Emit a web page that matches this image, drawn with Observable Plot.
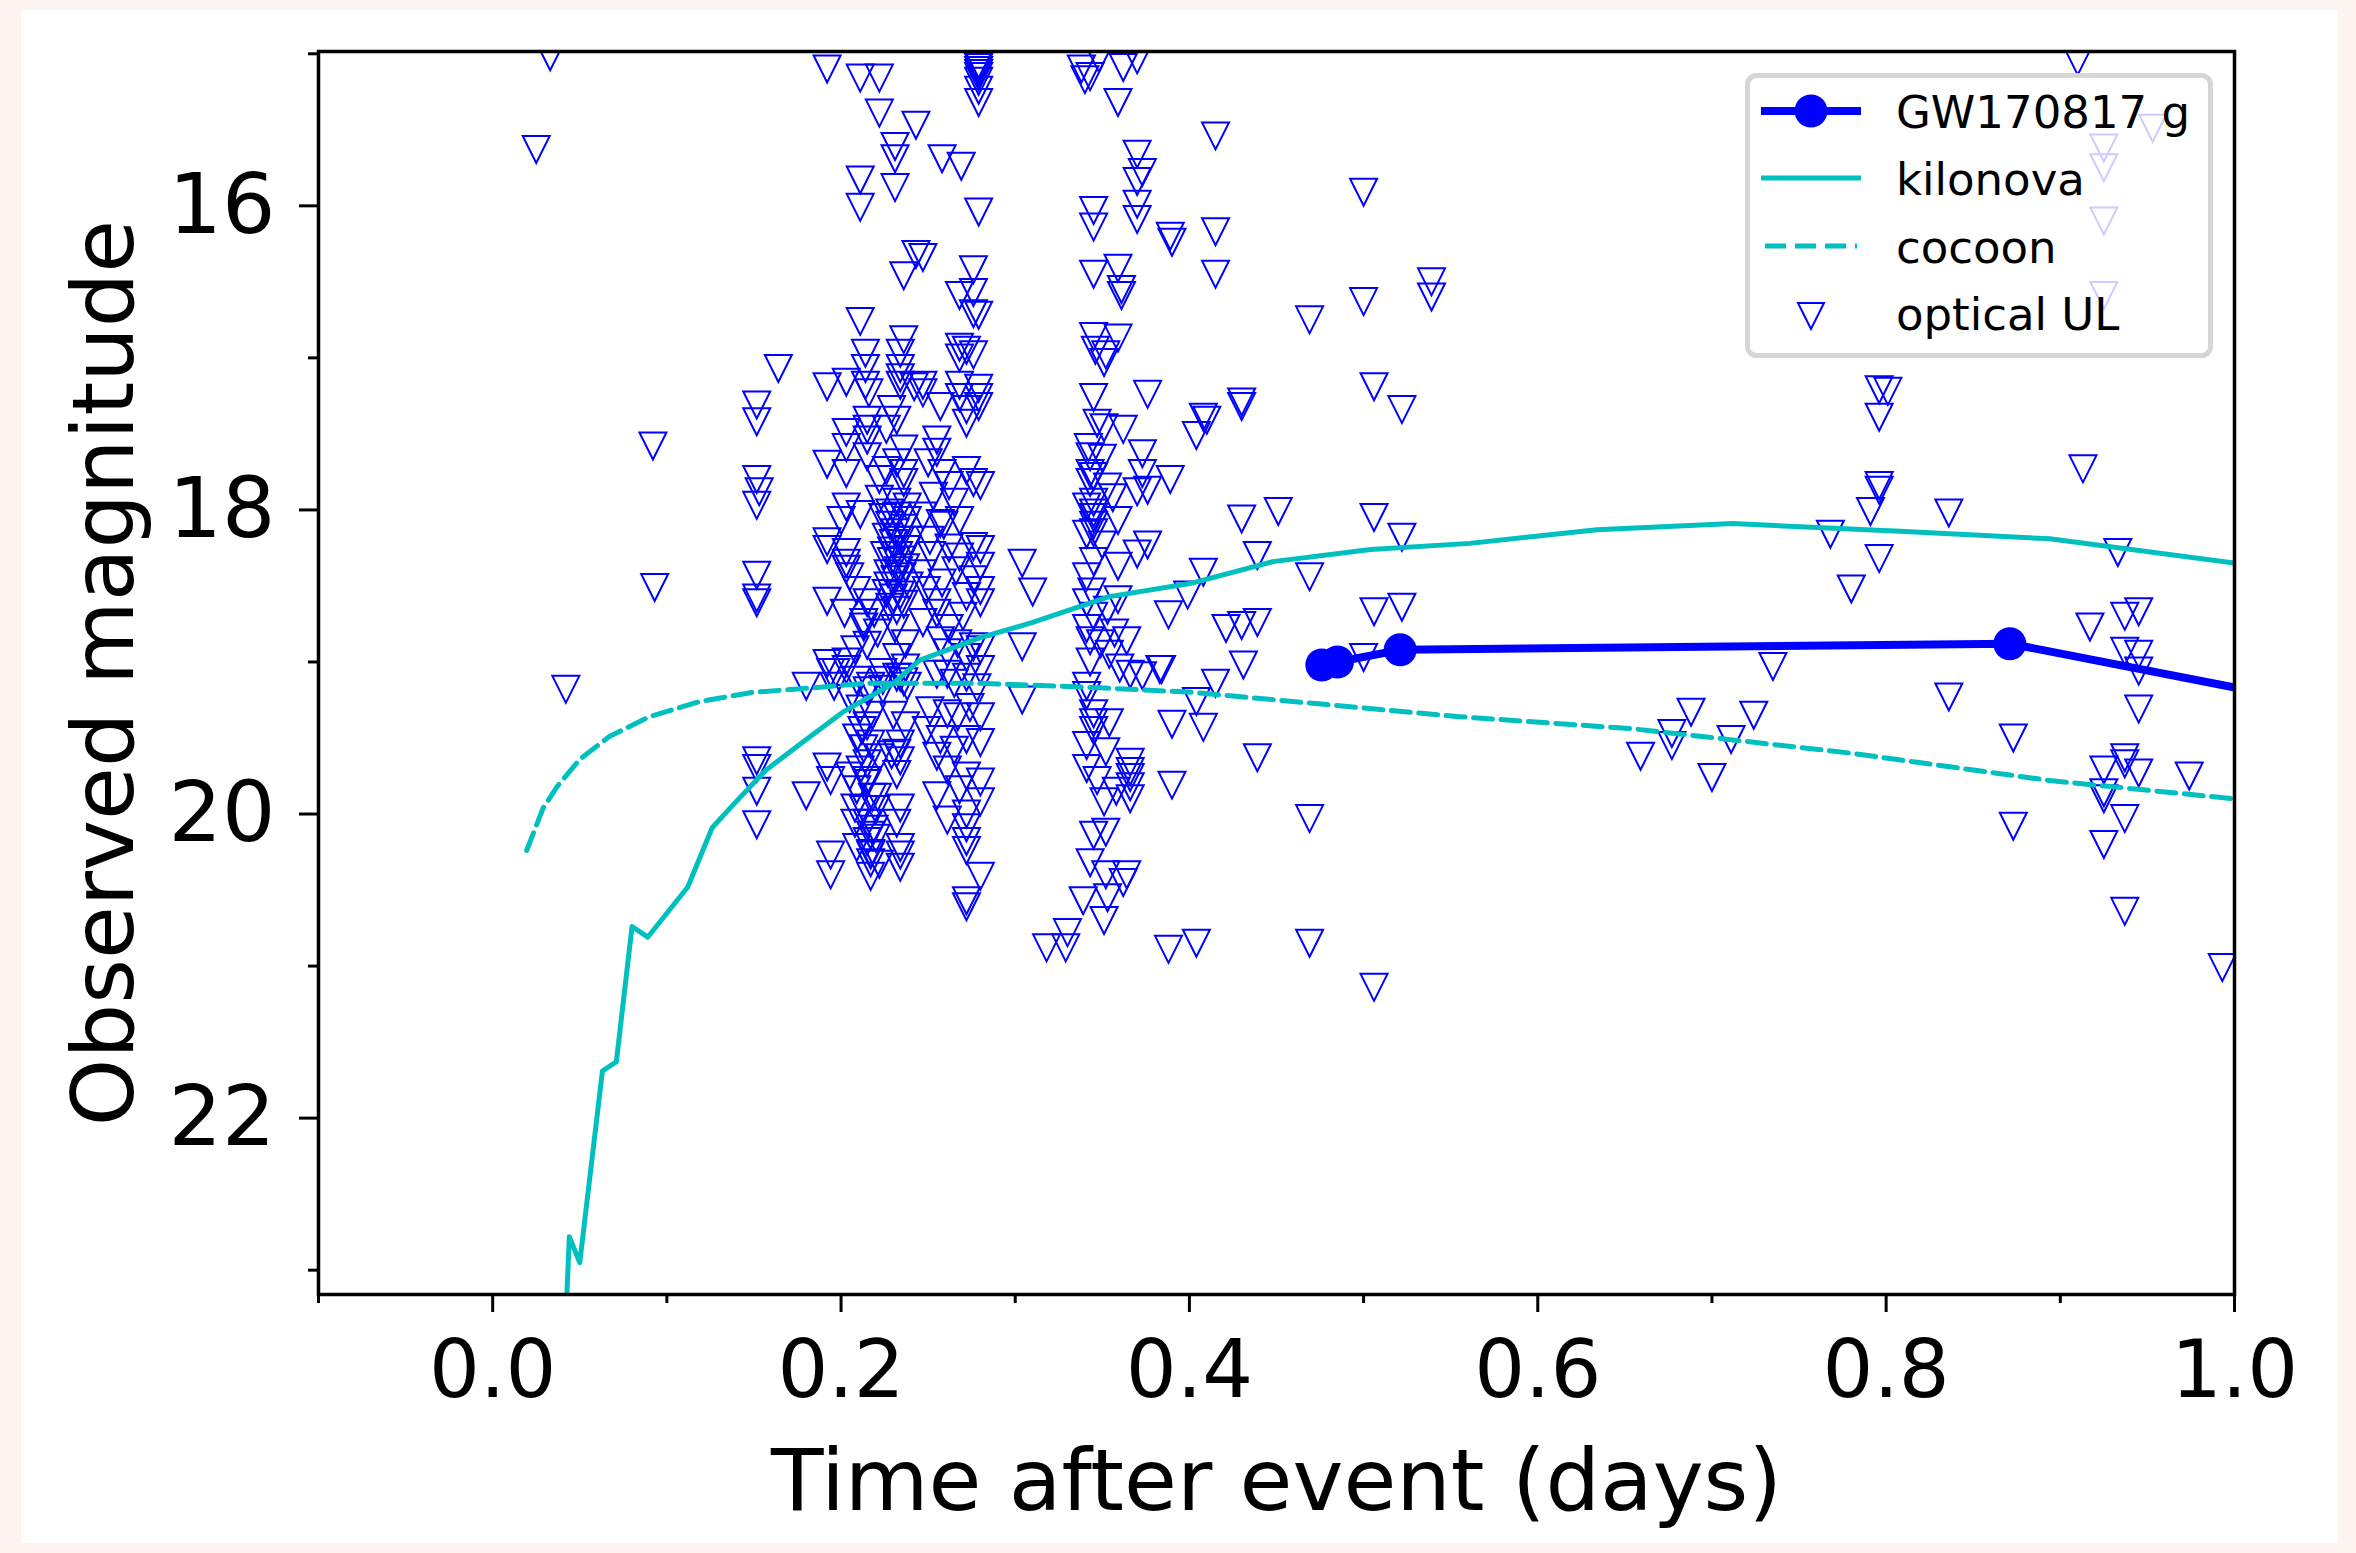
<!DOCTYPE html>
<html>
<head>
<meta charset="utf-8">
<script src="https://cdn.jsdelivr.net/npm/d3@7"></script>
<script src="https://cdn.jsdelivr.net/npm/@observablehq/plot@0.6"></script>
<style>
  html, body { margin: 0; padding: 0; background: #fdf4f1; }
  #page { position: relative; width: 2356px; height: 1553px; overflow: hidden; }
  #sheet { position: absolute; left: 21px; top: 10px; width: 2317px; height: 1533px; background: #ffffff; }
  #chart { position: absolute; left: 0; top: 0; }
  #legend { position: absolute; left: 0; top: 0; }
  text { font-family: "DejaVu Sans", sans-serif; }
</style>
</head>
<body>
<div id="page">
  <div id="sheet"></div>
  <div id="chart"></div>
  <svg id="legend" width="2356" height="1553"></svg>
</div>
<script>
// ---------------- data ----------------
const xMajorTicks = [0.0, 0.2, 0.4, 0.6, 0.8, 1.0];
const xMinorTicks = [-0.1, 0.1, 0.3, 0.5, 0.7, 0.9];
const yMajorTicks = [16, 18, 20, 22];
const yMinorTicks = [15, 17, 19, 21, 23];
const legendLabels = ["GW170817 g", "kilonova", "cocoon", "optical UL"];

// GW170817 g-band detections [days, mag]
const gwPoints = [[0.476, 19.02], [0.485, 19.00], [0.521, 18.92], [0.871, 18.88], [1.10, 19.39]];

// kilonova model [days, mag]
const kilonovaCurve = [
  [0.041, 23.6], [0.044, 22.78], [0.050, 22.95], [0.063, 21.69], [0.071, 21.63],
  [0.080, 20.74], [0.089, 20.81], [0.112, 20.48], [0.126, 20.09], [0.138, 19.94],
  [0.157, 19.71], [0.180, 19.51], [0.201, 19.33], [0.230, 19.14], [0.245, 18.99],
  [0.280, 18.84], [0.310, 18.74], [0.354, 18.57], [0.402, 18.48], [0.448, 18.34],
  [0.504, 18.26], [0.561, 18.22], [0.634, 18.13], [0.712, 18.09], [0.808, 18.14],
  [0.894, 18.19], [1.000, 18.35], [1.050, 18.43]
];

// cocoon model [days, mag]
const cocoonCurve = [
  [0.0195, 20.24], [0.029, 19.96], [0.037, 19.82], [0.050, 19.64], [0.067, 19.49],
  [0.090, 19.36], [0.119, 19.26], [0.149, 19.20], [0.184, 19.17], [0.215, 19.14],
  [0.280, 19.14], [0.349, 19.17], [0.402, 19.20], [0.479, 19.28], [0.555, 19.36],
  [0.655, 19.44], [0.780, 19.60], [0.894, 19.78], [1.000, 19.90]
];

// optical upper limits [days, mag]
const ulEarly = [
  [0.033, 15.02], [0.025, 15.63], [0.092, 17.58], [0.093, 18.51], [0.042, 19.18],
  [0.164, 17.07], [0.180, 19.16], [0.180, 19.88],
  [0.1516, 17.31], [0.1516, 17.42], [0.1516, 17.80], [0.153, 17.88], [0.1516, 17.97],
  [0.1516, 18.43], [0.1516, 18.58], [0.1516, 18.61], [0.1516, 19.65], [0.1516, 19.70],
  [0.1516, 19.85], [0.1516, 20.07]
];

const ulColA = [
  [0.192, 15.10], [0.211, 15.16], [0.222, 15.16], [0.222, 15.39], [0.243, 15.47],
  [0.231, 15.61], [0.231, 15.69], [0.211, 15.83], [0.231, 15.88], [0.211, 16.01],
  [0.243, 16.32], [0.236, 16.46], [0.211, 16.76], [0.236, 16.88],
  [0.192, 17.19], [0.203, 17.16], [0.214, 16.97], [0.214, 17.07], [0.214, 17.18],
  [0.216, 17.23], [0.234, 16.97], [0.234, 17.07], [0.234, 17.13], [0.234, 17.18],
  [0.242, 17.19], [0.229, 17.34], [0.232, 17.41], [0.215, 17.41], [0.215, 17.47],
  [0.215, 17.54], [0.215, 17.65], [0.203, 17.49], [0.203, 17.59], [0.203, 17.76],
  [0.192, 17.70], [0.226, 17.47], [0.226, 17.74], [0.236, 17.60], [0.236, 17.76],
  [0.203, 17.98], [0.222, 17.93], [0.232, 17.95], [0.238, 17.98], [0.232, 17.69],
  [0.236, 17.82], [0.222, 17.80], [0.228, 18.02], [0.238, 18.07],
  [0.192, 18.21], [0.200, 18.07], [0.211, 18.03], [0.203, 18.28], [0.203, 18.39],
  [0.192, 18.60], [0.202, 18.68], [0.213, 18.77], [0.215, 18.89], [0.208, 18.92],
  [0.192, 19.01], [0.203, 19.00], [0.197, 19.07], [0.224, 19.07], [0.231, 18.78],
  [0.237, 18.88], [0.232, 18.97], [0.237, 19.04], [0.196, 19.16], [0.205, 19.24],
  [0.215, 19.19], [0.224, 19.18], [0.234, 19.10], [0.236, 19.13], [0.211, 19.31],
  [0.218, 19.35], [0.230, 19.35], [0.237, 19.42], [0.215, 19.42], [0.209, 19.50],
  [0.213, 19.57], [0.232, 19.60], [0.234, 19.65], [0.192, 19.69], [0.205, 19.75],
  [0.215, 19.78], [0.232, 19.74], [0.209, 19.84], [0.218, 19.89], [0.208, 19.96],
  [0.220, 19.97], [0.234, 19.96], [0.215, 20.06], [0.217, 20.14], [0.220, 20.16],
  [0.209, 20.22], [0.194, 20.27], [0.217, 20.26], [0.234, 20.22], [0.234, 20.27],
  [0.217, 20.32],
  [0.192, 18.26], [0.203, 18.35], [0.205, 18.44], [0.209, 18.53], [0.215, 18.61],
  [0.219, 18.68], [0.213, 18.74], [0.221, 18.81], [0.194, 19.07], [0.203, 19.05],
  [0.209, 19.12], [0.217, 19.16], [0.224, 19.12], [0.232, 19.10], [0.238, 19.16],
  [0.194, 19.78],
  [0.224, 18.05], [0.228, 18.10], [0.232, 18.04], [0.236, 18.12], [0.226, 18.18],
  [0.230, 18.22], [0.234, 18.20], [0.238, 18.26], [0.225, 18.30], [0.229, 18.34],
  [0.233, 18.30], [0.237, 18.38], [0.227, 18.42], [0.231, 18.46], [0.235, 18.44],
  [0.239, 18.50], [0.226, 18.55], [0.230, 18.58], [0.234, 18.56], [0.228, 18.64],
  [0.232, 18.66], [0.236, 18.62], [0.229, 18.27], [0.233, 18.40], [0.231, 18.15],
  [0.227, 18.50], [0.235, 18.33], [0.240, 18.20],
  [0.212, 19.45], [0.217, 19.54], [0.222, 19.63], [0.229, 19.61], [0.234, 19.54],
  [0.215, 19.67], [0.211, 19.71], [0.215, 19.80], [0.221, 19.89], [0.213, 19.97],
  [0.208, 20.06], [0.219, 20.10], [0.232, 20.06], [0.215, 20.18], [0.217, 20.27],
  [0.222, 20.33], [0.234, 20.35], [0.194, 20.40], [0.217, 20.41]
];

const ulColB = [
  [0.258, 15.69], [0.269, 15.74], [0.279, 15.07], [0.279, 15.09], [0.279, 15.11],
  [0.279, 15.13], [0.279, 15.15], [0.279, 15.18], [0.279, 15.24], [0.279, 15.32],
  [0.279, 16.04], [0.247, 16.34], [0.276, 16.42], [0.276, 16.57], [0.268, 16.59],
  [0.279, 16.72], [0.276, 16.71], [0.268, 16.93], [0.276, 16.98],
  [0.247, 17.18], [0.247, 17.23], [0.257, 17.32], [0.268, 17.18], [0.268, 17.26],
  [0.272, 17.34], [0.272, 17.43], [0.279, 17.20], [0.279, 17.26], [0.279, 17.32],
  [0.268, 17.00], [0.272, 16.95], [0.255, 17.54], [0.255, 17.62], [0.250, 17.69],
  [0.258, 17.76], [0.262, 17.84], [0.253, 17.91], [0.265, 17.95], [0.272, 17.74],
  [0.276, 17.82], [0.280, 17.84], [0.268, 18.07], [0.259, 18.10], [0.247, 18.04],
  [0.257, 18.09], [0.276, 18.24], [0.280, 18.26], [0.268, 18.31], [0.280, 18.37],
  [0.276, 18.46], [0.280, 18.53], [0.272, 18.57], [0.280, 18.61], [0.247, 18.42],
  [0.249, 18.53], [0.255, 18.61], [0.247, 18.74], [0.255, 18.68], [0.257, 18.86],
  [0.267, 18.88], [0.276, 18.90], [0.280, 18.92], [0.272, 18.97], [0.261, 18.94],
  [0.280, 19.05], [0.272, 19.10], [0.261, 19.08], [0.255, 19.08], [0.265, 19.14],
  [0.278, 19.17], [0.251, 19.32], [0.261, 19.34], [0.274, 19.30], [0.280, 19.36],
  [0.267, 19.36], [0.249, 19.45], [0.257, 19.51], [0.272, 19.51], [0.280, 19.53],
  [0.265, 19.58], [0.255, 19.62], [0.261, 19.71], [0.272, 19.75], [0.280, 19.79],
  [0.268, 19.84], [0.255, 19.88], [0.280, 19.92], [0.272, 20.00], [0.261, 20.04],
  [0.272, 20.09], [0.272, 20.18], [0.272, 20.24], [0.280, 20.41], [0.272, 20.57],
  [0.272, 20.61],
  [0.251, 18.20], [0.262, 18.25], [0.266, 18.40], [0.258, 18.48], [0.270, 18.70],
  [0.262, 18.78], [0.252, 18.30],
  [0.304, 18.35], [0.310, 18.54], [0.304, 18.90], [0.304, 19.25], [0.318, 20.88],
  [0.329, 20.88]
];

const ulColC = [
  [0.340, 15.17], [0.343, 15.15], [0.338, 15.10], [0.348, 15.03], [0.362, 15.09],
  [0.370, 15.04], [0.359, 15.32], [0.370, 15.66], [0.373, 15.78], [0.370, 15.84],
  [0.345, 16.03], [0.345, 16.14], [0.370, 15.99], [0.370, 16.09], [0.345, 16.45],
  [0.359, 16.41], [0.361, 16.55], [0.361, 16.59], [0.345, 16.86], [0.359, 16.87],
  [0.352, 16.98], [0.351, 17.03], [0.346, 16.95], [0.345, 17.26], [0.376, 17.24],
  [0.351, 17.46], [0.362, 17.47], [0.342, 17.59], [0.350, 17.66], [0.373, 17.63],
  [0.373, 17.76], [0.389, 17.80], [0.345, 17.78], [0.353, 17.85], [0.370, 17.88],
  [0.376, 17.87], [0.356, 17.92], [0.347, 17.43], [0.343, 17.65], [0.343, 17.76],
  [0.343, 17.82], [0.341, 17.98], [0.345, 18.02],
  [0.345, 17.95], [0.345, 18.05], [0.345, 18.10], [0.345, 18.15], [0.359, 18.07],
  [0.341, 18.16], [0.350, 18.23], [0.376, 18.23], [0.370, 18.29], [0.345, 18.34],
  [0.359, 18.37], [0.344, 18.54], [0.341, 18.61], [0.359, 18.59], [0.353, 18.66],
  [0.341, 18.78], [0.357, 18.81], [0.364, 18.86], [0.349, 18.88], [0.354, 18.95],
  [0.360, 19.04], [0.366, 19.08], [0.373, 19.09], [0.383, 19.05], [0.345, 19.40],
  [0.354, 19.40], [0.352, 19.59], [0.341, 19.70], [0.366, 19.66], [0.366, 19.72],
  [0.366, 19.76], [0.366, 19.82], [0.358, 19.85], [0.351, 19.92], [0.366, 19.90],
  [0.345, 20.14], [0.352, 20.12], [0.352, 20.40], [0.364, 20.40], [0.362, 20.45],
  [0.339, 20.57], [0.353, 20.55], [0.351, 20.70], [0.330, 20.78], [0.341, 18.44],
  [0.345, 18.70], [0.343, 19.00], [0.341, 19.22], [0.345, 19.45], [0.341, 19.55],
  [0.347, 19.78], [0.343, 18.86], [0.341, 19.16], [0.345, 19.34], [0.343, 20.32]
];

const ulMid = [
  [0.389, 16.20], [0.390, 16.24], [0.415, 16.17], [0.415, 16.45], [0.415, 15.54],
  [0.469, 16.75], [0.500, 16.63], [0.500, 15.91], [0.539, 16.50], [0.539, 16.60],
  [0.430, 17.29], [0.430, 17.32], [0.408, 17.39], [0.410, 17.41], [0.404, 17.51],
  [0.506, 17.19], [0.522, 17.34], [0.430, 18.06], [0.451, 18.01], [0.506, 18.05],
  [0.522, 18.18], [0.439, 18.30], [0.469, 18.44], [0.408, 18.41], [0.399, 18.56],
  [0.388, 18.69], [0.506, 18.67], [0.522, 18.64], [0.421, 18.78], [0.430, 18.76],
  [0.439, 18.74], [0.431, 19.02], [0.500, 18.97], [0.415, 19.14], [0.384, 19.05],
  [0.404, 19.26], [0.408, 19.43], [0.390, 19.41], [0.439, 19.63], [0.390, 19.81],
  [0.469, 20.03], [0.388, 20.89], [0.404, 20.85], [0.469, 20.85], [0.506, 21.14]
];

const ulLate = [
  [0.768, 18.16], [0.796, 17.21], [0.801, 17.22], [0.796, 17.39], [0.796, 17.87],
  [0.796, 17.84], [0.791, 18.01], [0.796, 18.32], [0.780, 18.52], [0.735, 19.03],
  [0.688, 19.33], [0.677, 19.47], [0.677, 19.55], [0.659, 19.62], [0.700, 19.76],
  [0.711, 19.51], [0.724, 19.35], [0.910, 15.05], [0.953, 15.49], [0.925, 15.62],
  [0.925, 15.75], [0.925, 16.10], [0.925, 16.59], [0.836, 18.02], [0.913, 17.73],
  [0.933, 18.28], [0.836, 19.23], [0.917, 18.77], [0.937, 18.70], [0.945, 18.67],
  [0.937, 18.93], [0.945, 18.95], [0.945, 19.06], [0.945, 19.31], [0.873, 19.50],
  [0.937, 19.63], [0.937, 19.67], [0.945, 19.73], [0.925, 19.71], [0.974, 19.75],
  [0.925, 19.86], [0.925, 19.90], [0.937, 20.03], [0.873, 20.08], [0.925, 20.20],
  [0.937, 20.64], [0.993, 21.01]
];

// ---------------- build ----------------
const toObj = ([t, m]) => ({t, m});
const ul = [...ulEarly, ...ulColA, ...ulColB, ...ulColC, ...ulMid, ...ulLate].map(toObj);
const gw = gwPoints.map(toObj);
const kilonova = kilonovaCurve.map(toObj);
const cocoon = cocoonCurve.map(toObj);

const BLUE = "#0000ff";
const CYAN = "#00bfbf";
const FONT = "DejaVu Sans";

// matplotlib-style "v" marker
const triDown = {
  draw(context, size) {
    const h = Math.sqrt(size / Math.PI);
    context.moveTo(-h, -h);
    context.lineTo(h, -h);
    context.lineTo(0, h);
    context.closePath();
  }
};

const chart = Plot.plot({
  width: 2356,
  height: 1553,
  marginLeft: 318,
  marginRight: 122,
  marginTop: 51,
  marginBottom: 259,
  style: {fontFamily: FONT, background: "transparent", color: "black", overflow: "visible"},
  x: {domain: [-0.1, 1.0]},
  y: {domain: [23.16, 14.985]},
  marks: [
    Plot.dot(ul, {x: "t", y: "m", symbol: triDown, r: 13.5, stroke: BLUE, fill: "none", strokeWidth: 2, clip: true}),
    Plot.line(kilonova, {x: "t", y: "m", stroke: CYAN, strokeWidth: 5, clip: true}),
    Plot.line(cocoon, {x: "t", y: "m", stroke: CYAN, strokeWidth: 5, strokeDasharray: "19,8.5", clip: true}),
    Plot.line(gw, {x: "t", y: "m", stroke: BLUE, strokeWidth: 8, clip: true}),
    Plot.dot(gw, {x: "t", y: "m", r: 16.5, fill: BLUE, stroke: "none", clip: true}),
    Plot.frame({stroke: "black", strokeWidth: 3.5}),
    Plot.axisX({ticks: xMajorTicks, tickSize: 18, tickPadding: 28, tickFormat: d3.format(".1f"), fontSize: 80, strokeWidth: 3, label: null}),
    Plot.axisX({ticks: xMinorTicks, tickSize: 9, tickFormat: null, text: null, strokeWidth: 3, label: null}),
    Plot.axisY({ticks: yMajorTicks, tickSize: 19, tickPadding: 24, tickFormat: d3.format("d"), fontSize: 84, strokeWidth: 3, label: null}),
    Plot.axisY({ticks: yMinorTicks, tickSize: 10, tickFormat: null, text: null, strokeWidth: 3, label: null}),
    Plot.text(["Time after event (days)"], {text: d => d, frameAnchor: "bottom", textAnchor: "middle", dy: 215, fontSize: 86, fill: "black"}),
    Plot.text(["Observed magnitude"], {text: d => d, frameAnchor: "left", textAnchor: "middle", lineAnchor: "middle", rotate: -90, dx: -213, fontSize: 86, fill: "black"})
  ]
});
document.getElementById("chart").appendChild(chart);

// ---------------- legend (matplotlib-style box, 0.8 alpha) ----------------
const svg = d3.select("#legend");
const lg = {x: 1747.5, y: 75.5, w: 463, h: 280};
svg.append("rect")
  .attr("x", lg.x).attr("y", lg.y).attr("width", lg.w).attr("height", lg.h)
  .attr("rx", 9).attr("ry", 9)
  .attr("fill", "white").attr("fill-opacity", 0.8)
  .attr("stroke", "#d6d6d6").attr("stroke-width", 5);
const rows = [111, 178, 246, 313];
const hx0 = 1761, hx1 = 1861, hxc = 1811, tx = 1896;
// GW
svg.append("line").attr("x1", hx0).attr("x2", hx1).attr("y1", rows[0]).attr("y2", rows[0])
  .attr("stroke", BLUE).attr("stroke-width", 8);
svg.append("circle").attr("cx", hxc).attr("cy", rows[0]).attr("r", 16.5).attr("fill", BLUE);
// kilonova
svg.append("line").attr("x1", hx0).attr("x2", hx1).attr("y1", rows[1]).attr("y2", rows[1])
  .attr("stroke", CYAN).attr("stroke-width", 5);
// cocoon
svg.append("line").attr("x1", hx0 + 4).attr("x2", hx1 - 4).attr("y1", rows[2]).attr("y2", rows[2])
  .attr("stroke", CYAN).attr("stroke-width", 5).attr("stroke-dasharray", "21,9");
// optical UL
const h = 13;
svg.append("path")
  .attr("d", `M${hxc - h},${rows[3] + 3 - h}L${hxc + h},${rows[3] + 3 - h}L${hxc},${rows[3] + 3 + h}Z`)
  .attr("fill", "none").attr("stroke", BLUE).attr("stroke-width", 2);
legendLabels.forEach((lab, i) => {
  svg.append("text").attr("x", tx).attr("y", rows[i] + 16.5)
    .attr("font-size", 45).attr("font-family", FONT).attr("fill", "black").text(lab);
});
</script>
</body>
</html>
